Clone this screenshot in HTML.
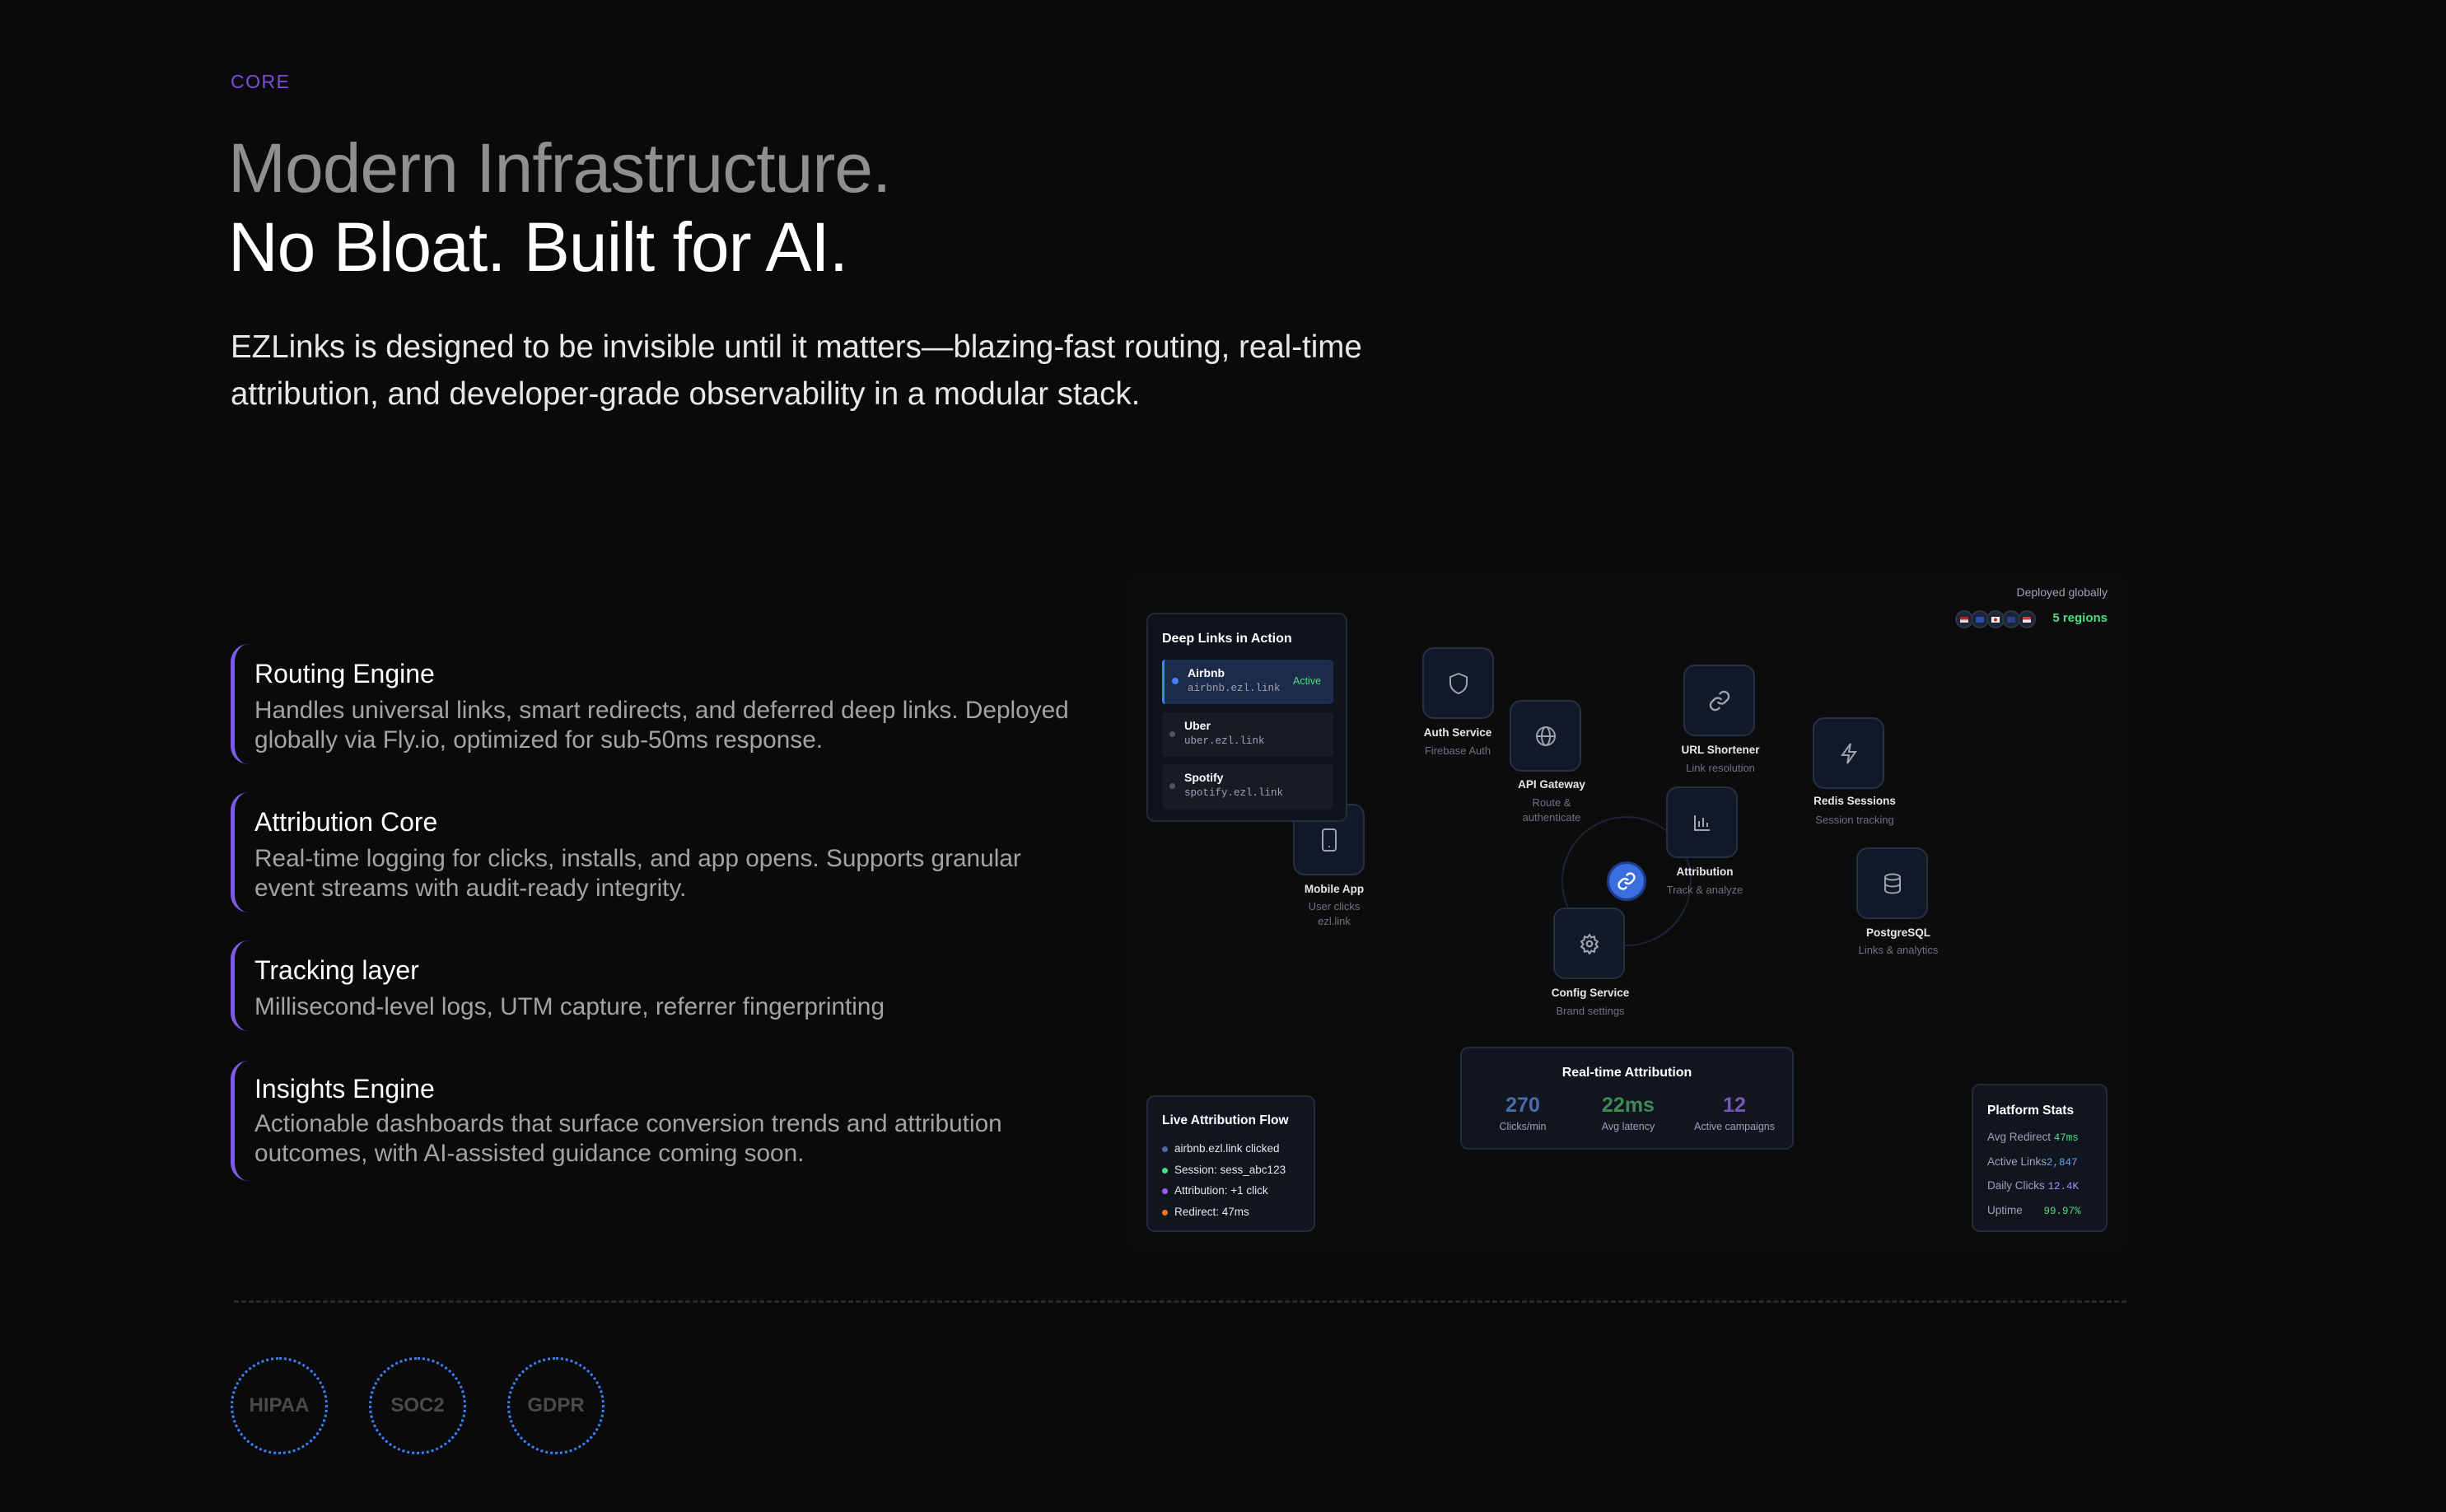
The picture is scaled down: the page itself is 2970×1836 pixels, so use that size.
<!DOCTYPE html>
<html><head><meta charset="utf-8"><style>
*{margin:0;padding:0;box-sizing:border-box}
body{width:2970px;height:1836px;background:#0a0a0a;font-family:"Liberation Sans",sans-serif;position:relative;overflow:hidden;color:#fff}
.a{position:absolute}
.nw{white-space:nowrap}
.feat{position:absolute;left:280px;border-left:5px solid #7c5ce6;border-radius:22px 0 0 22px;padding-left:24px}
.ft{font-size:32px;color:#fff;position:absolute;left:309px;white-space:nowrap}
.fd{font-size:29.8px;color:#a3a3a3;position:absolute;left:309px;white-space:nowrap;line-height:36px}
.node{position:absolute;width:87px;height:87px;border:2px solid #263042;border-radius:14px;background:#111827;display:flex;align-items:center;justify-content:center}
.nl{position:absolute;font-size:13.5px;font-weight:bold;color:#e5e7eb;text-align:center;white-space:nowrap;transform:translateX(-50%)}
.ns{position:absolute;font-size:13px;color:#6b7280;text-align:center;white-space:nowrap;transform:translateX(-50%);line-height:18px}
.card{position:absolute;background:#101520;border:2px solid #232a38;border-radius:10px}
.mono{font-family:"Liberation Mono",monospace}
.badge{position:absolute;width:118px;height:118px;border:3px dotted #3b82f6;border-radius:50%;display:flex;align-items:center;justify-content:center;color:#4a4a4a;font-size:24px;font-weight:bold}
.fl{width:22px;height:22px;border-radius:50%;background:#1c2436;border:2px solid #2d3648;margin-right:-3px;display:flex;align-items:center;justify-content:center}
.fl i{display:block;width:10px;height:7px}
.ps{height:29.5px;line-height:29.5px;font-size:13.5px;color:#9ca3af;white-space:nowrap}
.ps span{font-family:"Liberation Mono",monospace;font-size:12.5px}
</style></head><body>

<div class="a nw" style="left:280px;top:86px;font-size:23px;color:#7c4ddb;letter-spacing:1.5px">CORE</div>
<div class="a nw" style="left:277px;top:156px;font-size:84px;color:#8f8f8f;letter-spacing:-1px;line-height:96px">Modern Infrastructure.</div>
<div class="a nw" style="left:277px;top:252px;font-size:84px;color:#fff;letter-spacing:-1px;line-height:96px">No Bloat. Built for AI.</div>
<div class="a nw" style="left:280px;top:393px;font-size:38.5px;color:#e8e8e8;line-height:57px">EZLinks is designed to be invisible until it matters—blazing-fast routing, real-time<br>attribution, and developer-grade observability in a modular stack.</div>

<div class="feat" style="top:782px;height:146px"></div>
<div class="ft" style="top:800px">Routing Engine</div>
<div class="fd" style="top:845px">Handles universal links, smart redirects, and deferred deep links. Deployed<br>globally via Fly.io, optimized for sub-50ms response.</div>

<div class="feat" style="top:962px;height:146px"></div>
<div class="ft" style="top:980px">Attribution Core</div>
<div class="fd" style="top:1025px">Real-time logging for clicks, installs, and app opens. Supports granular<br>event streams with audit-ready integrity.</div>

<div class="feat" style="top:1142px;height:110px"></div>
<div class="ft" style="top:1160px">Tracking layer</div>
<div class="fd" style="top:1205px">Millisecond-level logs, UTM capture, referrer fingerprinting</div>

<div class="feat" style="top:1288px;height:146px"></div>
<div class="ft" style="top:1304px">Insights Engine</div>
<div class="fd" style="top:1347px">Actionable dashboards that surface conversion trends and attribution<br>outcomes, with AI-assisted guidance coming soon.</div>

<div class="a" style="left:1368px;top:701px;width:1215px;height:814px;background:#0c0c0d;border-radius:8px"></div>

<svg class="a" style="left:0;top:0" width="2970" height="1836">
<circle cx="1975" cy="1070" r="78" fill="none" stroke="#1c2334" stroke-width="2"/>
</svg>

<div class="a nw" style="right:411px;top:711px;font-size:14px;color:#9ca3af">Deployed globally</div>
<div class="a" style="left:2374px;top:741px;display:flex">
<div class="fl"><i style="background:linear-gradient(#b22 0 50%,#ddd 50%)"></i></div>
<div class="fl"><i style="background:#2a4fb0"></i></div>
<div class="fl"><i style="background:radial-gradient(circle,#c22 30%,#eee 35%)"></i></div>
<div class="fl"><i style="background:#2a3f8a"></i></div>
<div class="fl"><i style="background:linear-gradient(#d33 0 50%,#eee 50%)"></i></div>
</div>
<div class="a nw" style="right:411px;top:742px;font-size:15px;color:#4ade80;font-weight:bold">5 regions</div>

<div class="node" style="left:1570px;top:976px"><svg width="22" height="30" viewBox="0 0 22 30"><rect x="3" y="2" width="16" height="26" rx="3" fill="none" stroke="#9ca3af" stroke-width="2"/><circle cx="11" cy="23" r="1" fill="#9ca3af"/></svg></div>
<div class="nl" style="left:1620px;top:1072px">Mobile App</div>
<div class="ns" style="left:1620px;top:1092px">User clicks<br>ezl.link</div>

<div class="node" style="left:1727px;top:786px"><svg width="26" height="28" viewBox="0 0 26 28"><path d="M13 2 L23 6 V13 C23 20 18 24 13 26 C8 24 3 20 3 13 V6 Z" fill="none" stroke="#9ca3af" stroke-width="2"/></svg></div>
<div class="nl" style="left:1770px;top:882px">Auth Service</div>
<div class="ns" style="left:1770px;top:903px">Firebase Auth</div>

<div class="node" style="left:1833px;top:850px"><svg width="28" height="28" viewBox="0 0 28 28" fill="none" stroke="#9ca3af" stroke-width="2"><circle cx="14" cy="14" r="11"/><ellipse cx="14" cy="14" rx="5" ry="11"/><path d="M3 14H25"/></svg></div>
<div class="nl" style="left:1884px;top:945px">API Gateway</div>
<div class="ns" style="left:1884px;top:966px">Route &amp;<br>authenticate</div>

<div class="node" style="left:2044px;top:807px"><svg width="28" height="28" viewBox="0 0 24 24" fill="none" stroke="#9ca3af" stroke-width="2"><path d="M10 13a5 5 0 0 0 7.5.5l3-3a5 5 0 0 0-7-7l-1.7 1.7"/><path d="M14 11a5 5 0 0 0-7.5-.5l-3 3a5 5 0 0 0 7 7l1.7-1.7"/></svg></div>
<div class="nl" style="left:2089px;top:903px">URL Shortener</div>
<div class="ns" style="left:2089px;top:924px">Link resolution</div>

<div class="node" style="left:2023px;top:955px"><svg width="24" height="24" viewBox="0 0 24 24" fill="none" stroke="#9ca3af" stroke-width="2"><path d="M3 3V21H21"/><path d="M8 17V10M13 17V6M18 17V12"/></svg></div>
<div class="nl" style="left:2070px;top:1051px">Attribution</div>
<div class="ns" style="left:2070px;top:1072px">Track &amp; analyze</div>

<div class="node" style="left:2201px;top:871px"><svg width="24" height="28" viewBox="0 0 24 28" fill="none" stroke="#9ca3af" stroke-width="2"><path d="M14 2 L4 16 H12 L10 26 L20 12 H12 Z"/></svg></div>
<div class="nl" style="left:2252px;top:965px">Redis Sessions</div>
<div class="ns" style="left:2252px;top:987px">Session tracking</div>

<div class="node" style="left:2254px;top:1029px"><svg width="24" height="28" viewBox="0 0 24 28" fill="none" stroke="#9ca3af" stroke-width="2"><ellipse cx="12" cy="6" rx="9" ry="3.5"/><path d="M3 6V22C3 24 7 25.5 12 25.5S21 24 21 22V6"/><path d="M3 14C3 16 7 17.5 12 17.5S21 16 21 14"/></svg></div>
<div class="nl" style="left:2305px;top:1125px">PostgreSQL</div>
<div class="ns" style="left:2305px;top:1145px">Links &amp; analytics</div>

<div class="node" style="left:1886px;top:1102px"><svg width="26" height="26" viewBox="0 0 24 24" fill="none" stroke="#9ca3af" stroke-width="2"><circle cx="12" cy="12" r="3"/><path d="M12 2l2 3 3.5-1 .5 3.5 3 2-2 3 2 3-3 2-.5 3.5-3.5-1-2 3-2-3-3.5 1-.5-3.5-3-2 2-3-2-3 3-2 .5-3.5 3.5 1z"/></svg></div>
<div class="nl" style="left:1931px;top:1198px">Config Service</div>
<div class="ns" style="left:1931px;top:1219px">Brand settings</div>

<div class="a" style="left:1951px;top:1046px;width:48px;height:48px;border-radius:50%;background:#3b6fe0;border:3px solid #1e3a8a;display:flex;align-items:center;justify-content:center"><svg width="24" height="24" viewBox="0 0 24 24" fill="none" stroke="#fff" stroke-width="2.4"><path d="M10 13a5 5 0 0 0 7.5.5l3-3a5 5 0 0 0-7-7l-1.7 1.7"/><path d="M14 11a5 5 0 0 0-7.5-.5l-3 3a5 5 0 0 0 7 7l1.7-1.7"/></svg></div>

<div class="card" style="left:1392px;top:744px;width:244px;height:254px;background:#0f131c">
<div class="a nw" style="left:17px;top:21px;font-size:16px;font-weight:bold">Deep Links in Action</div>
<div class="a" style="left:17px;top:55px;width:208px;height:54px;background:#1c2b4a;border-left:3px solid #3b82f6;border-radius:4px">
<div class="a" style="left:9px;top:22px;width:8px;height:8px;border-radius:50%;background:#4b82f0"></div>
<div class="a nw" style="left:28px;top:8px;font-size:14px;font-weight:bold">Airbnb</div>
<div class="a nw mono" style="left:28px;top:28px;font-size:12.5px;color:#9ca3af">airbnb.ezl.link</div>
<div class="a nw" style="left:156px;top:19px;font-size:12.5px;color:#4ade80">Active</div>
</div>
<div class="a" style="left:17px;top:119px;width:208px;height:54px;background:#161b26;border-radius:4px">
<div class="a" style="left:9px;top:23px;width:7px;height:7px;border-radius:50%;background:#4b5563"></div>
<div class="a nw" style="left:27px;top:8px;font-size:14px;font-weight:bold">Uber</div>
<div class="a nw mono" style="left:27px;top:28px;font-size:12.5px;color:#9ca3af">uber.ezl.link</div>
</div>
<div class="a" style="left:17px;top:182px;width:208px;height:54px;background:#161b26;border-radius:4px">
<div class="a" style="left:9px;top:23px;width:7px;height:7px;border-radius:50%;background:#4b5563"></div>
<div class="a nw" style="left:27px;top:8px;font-size:14px;font-weight:bold">Spotify</div>
<div class="a nw mono" style="left:27px;top:28px;font-size:12.5px;color:#9ca3af">spotify.ezl.link</div>
</div>
</div>

<div class="card" style="left:1773px;top:1271px;width:405px;height:125px">
<div class="a nw" style="left:0;width:401px;text-align:center;top:21px;font-size:16px;font-weight:bold">Real-time Attribution</div>
<div class="a nw" style="left:34px;width:80px;text-align:center;top:55px;font-size:25px;font-weight:bold;color:#4b6aa8">270</div>
<div class="a nw" style="left:34px;width:80px;text-align:center;top:88px;font-size:12.5px;color:#9ca3af">Clicks/min</div>
<div class="a nw" style="left:162px;width:80px;text-align:center;top:55px;font-size:25px;font-weight:bold;color:#3f8a55">22ms</div>
<div class="a nw" style="left:162px;width:80px;text-align:center;top:88px;font-size:12.5px;color:#9ca3af">Avg latency</div>
<div class="a nw" style="left:270px;width:122px;text-align:center;top:55px;font-size:25px;font-weight:bold;color:#7a55b8">12</div>
<div class="a nw" style="left:270px;width:122px;text-align:center;top:88px;font-size:12.5px;color:#9ca3af">Active campaigns</div>
</div>

<div class="card" style="left:1392px;top:1330px;width:205px;height:166px">
<div class="a nw" style="left:17px;top:20px;font-size:15.5px;font-weight:bold">Live Attribution Flow</div>
<div class="a nw" style="left:17px;top:50px;font-size:13.5px;color:#e5e7eb;line-height:25.5px">
<span style="display:inline-block;width:7px;height:7px;border-radius:50%;background:#4b6aa8;margin-right:8px"></span>airbnb.ezl.link clicked<br>
<span style="display:inline-block;width:7px;height:7px;border-radius:50%;background:#4ade80;margin-right:8px"></span>Session: sess_abc123<br>
<span style="display:inline-block;width:7px;height:7px;border-radius:50%;background:#a855f7;margin-right:8px"></span>Attribution: +1 click<br>
<span style="display:inline-block;width:7px;height:7px;border-radius:50%;background:#f97316;margin-right:8px"></span>Redirect: 47ms</div>
</div>

<div class="card" style="left:2394px;top:1316px;width:165px;height:180px">
<div class="a nw" style="left:17px;top:22px;font-size:15.5px;font-weight:bold">Platform Stats</div>
<div class="a" style="left:17px;top:48px">
<div class="ps">Avg Redirect <span style="color:#4ade80">47ms</span></div>
<div class="ps">Active Links<span style="color:#60a5fa">2,847</span></div>
<div class="ps">Daily Clicks <span style="color:#a78bfa">12.4K</span></div>
<div class="ps">Uptime <span style="color:#4ade80;margin-left:22px">99.97%</span></div>
</div>
</div>

<div class="a" style="left:284px;top:1579px;width:2298px;height:0;border-top:3px dashed #2a2a2a"></div>

<div class="badge" style="left:280px;top:1648px">HIPAA</div>
<div class="badge" style="left:448px;top:1648px">SOC2</div>
<div class="badge" style="left:616px;top:1648px">GDPR</div>

</body></html>
